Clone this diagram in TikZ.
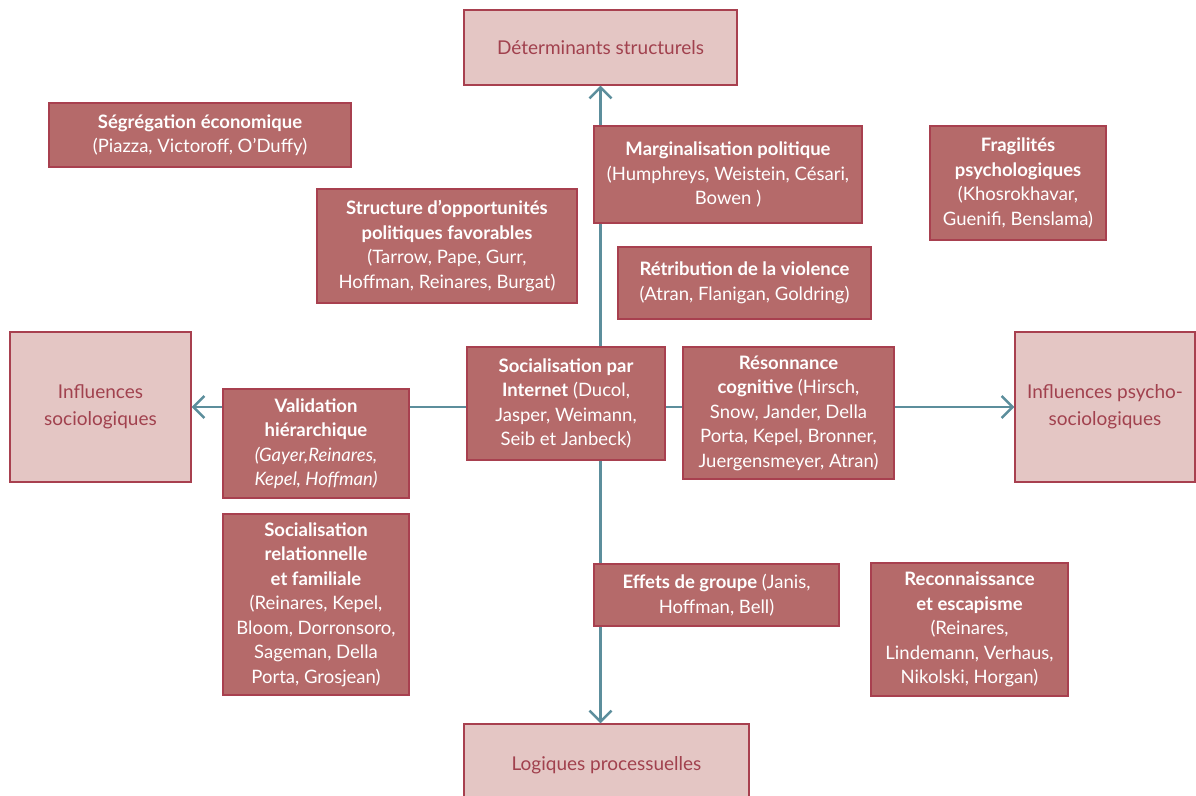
\documentclass[tikz,border=0pt]{standalone}
\usepackage{fontspec}
\setmainfont{Lato}
\usetikzlibrary{arrows.meta,positioning}
\definecolor{rougeclair}{HTML}{E4C6C4}
\definecolor{rougefonce}{HTML}{B56A6A}
\definecolor{bordure}{HTML}{A8404F}
\definecolor{texteclair}{HTML}{A1414E}
\definecolor{sarcelle}{HTML}{5C8E9C}

\begin{document}
\begin{tikzpicture}[x=1pt,y=-1pt,>={Straight Barb[length=11pt,width=22pt]},
cadre/.style = {draw=bordure, fill=rougeclair, line width=1.2pt, text=texteclair, align=center, inner sep=0pt, font=\fontsize{19}{27}\selectfont},
bloc/.style = {draw=bordure, fill=rougefonce, line width=1.2pt, text=white, align=center, inner sep=0pt, font=\fontsize{18.5}{24.5}\selectfont},
axe/.style = {draw=sarcelle, line width=2.5pt},]
\useasboundingbox (0,0) rectangle (1196,795);
% les quatre poles
\node (det) at (600.5,47.5)[cadre,minimum width=273,minimum height=75] {Déterminants structurels};
\node (isoc) at (100.5,407)[cadre,minimum width=181,minimum height=150] {Influences\\sociologiques};
\node (ipsy) at (1105,407)[cadre,minimum width=180,minimum height=150] {Influences psycho-\\sociologiques};
\node (logi) at (606.5,765)[cadre,minimum width=285,minimum height=82] {Logiques processuelles};
% les axes
\draw[axe,<->] (det.south) -- (det.south |- logi.north);
\draw[axe,<->] (isoc) -- (ipsy);
% les facteurs
\node (segr) at (200,135)[bloc,minimum width=302,minimum height=64] {\textbf{Ségrégation économique}\\(Piazza, Victoroff, O’Duffy)};
\node (struc) at (447,246)[bloc,minimum width=260,minimum height=114] {\textbf{Structure d’opportunités}\\\textbf{politiques favorables}\\(Tarrow, Pape, Gurr,\\Hoffman, Reinares, Burgat)};
\node (marg) at (728,174.5)[bloc,minimum width=268,minimum height=97] {\textbf{Marginalisation politique}\\(Humphreys, Weistein, Césari,\\Bowen )};
\node (frag) at (1018,183)[bloc,minimum width=176,minimum height=114] {\textbf{Fragilités}\\\textbf{psychologiques}\\(Khosrokhavar,\\Guenifi, Benslama)};
\node (retr) at (744.5,283)[bloc,minimum width=253,minimum height=72] {\textbf{Rétribution de la violence}\\(Atran, Flanigan, Goldring)};
\node (valid) at (316,443.5)[bloc,minimum width=186,minimum height=109] {\textbf{Validation}\\\textbf{hiérarchique}\\\textit{(Gayer,Reinares,}\\\textit{Kepel, Hoffman)}};
\node (sint) at (566,403.5)[bloc,minimum width=198,minimum height=113] {\textbf{Socialisation par}\\\textbf{Internet} (Ducol,\\Jasper, Weimann,\\Seib et Janbeck)};
\node (reson) at (788.5,413)[bloc,minimum width=211,minimum height=132] {\textbf{Résonnance}\\\textbf{cognitive} (Hirsch,\\Snow, Jander, Della\\Porta, Kepel, Bronner,\\Juergensmeyer, Atran)};
\node (srel) at (316,604.5)[bloc,minimum width=186,minimum height=181] {\textbf{Socialisation}\\\textbf{relationnelle}\\\textbf{et familiale}\\(Reinares, Kepel,\\Bloom, Dorronsoro,\\Sageman, Della\\Porta, Grosjean)};
\node (effet) at (716.5,595)[bloc,minimum width=245,minimum height=62] {\textbf{Effets de groupe} (Janis,\\Hoffman, Bell)};
\node (recon) at (969.5,629.5)[bloc,minimum width=197,minimum height=133] {\textbf{Reconnaissance}\\\textbf{et escapisme}\\(Reinares,\\Lindemann, Verhaus,\\Nikolski, Horgan)};
\end{tikzpicture}
\end{document}
